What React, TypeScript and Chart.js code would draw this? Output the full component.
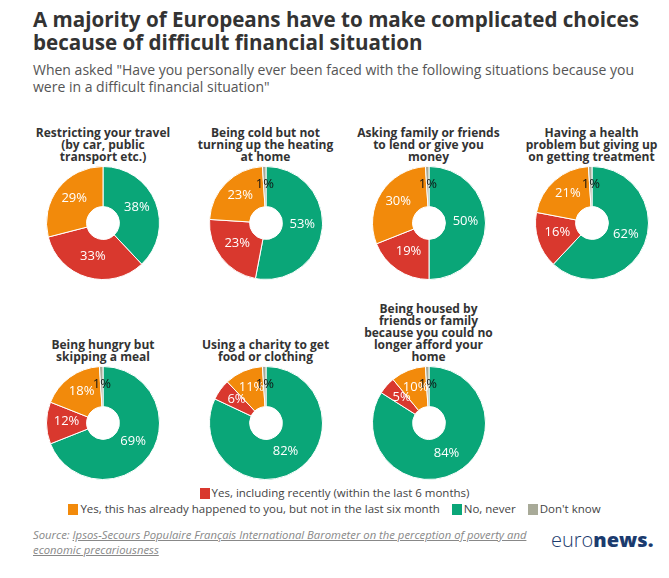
import React, { useEffect, useRef } from "react";
import { Chart, registerables } from "chart.js";

Chart.register(...registerables);

// ---------- DATA ----------
const categoryTitles: string[][] = [
  ["Restricting your travel", "(by car, public", "transport etc.)"],
  ["Being cold but not", "turning up the heating", "at home"],
  ["Asking family or friends", "to lend or give you", "money"],
  ["Having a health", "problem but giving up", "on getting treatment"],
  ["Being hungry but", "skipping a meal"],
  ["Using a charity to get", "food or clothing"],
  ["Being housed by", "friends or family", "because you could no", "longer afford your", "home"],
];

const seriesNames = [
  "No, never",
  "Yes, including recently (within the last 6 months)",
  "Yes, this has already happened to you, but not in the last six month",
  "Don't know",
];

const noNever = [38, 53, 50, 62, 69, 82, 84];
const yesRecently = [33, 23, 19, 16, 12, 6, 5];
const yesEarlier = [29, 23, 30, 21, 18, 11, 10];
const dontKnow = [0, 1, 1, 1, 1, 1, 1];

const seriesColors = ["#0aa678", "#d9382e", "#f28a0b", "#a8aa98"];
const labelColors = ["#ffffff", "#ffffff", "#ffffff", "#111111"];

// legend order as in the reference: row 1 / row 2
const legendRows: number[][] = [[1], [2, 0, 3]];

// ---------- LAYOUT ----------
const colX = [103, 265.5, 428.5, 591.5];
const rowY = [223, 422.5];
const titleBottom = [163, 363];
const SIZE = 114;

const FONT = '"Open Sans", "DejaVu Sans", sans-serif';

const pctLabels = {
  id: "pctLabels",
  afterDatasetsDraw(chart: any) {
    const ctx = chart.ctx;
    const meta = chart.getDatasetMeta(0);
    const data = chart.data.datasets[0].data as number[];
    ctx.save();
    ctx.font = '400 13px "Open Sans"';
    ctx.textAlign = "center";
    ctx.textBaseline = "middle";
    meta.data.forEach((arc: any, i: number) => {
      const v = data[i];
      if (!v) return;
      const p = arc.tooltipPosition();
      ctx.fillStyle = labelColors[i];
      ctx.fillText(v + "%", p.x, p.y - 2);
    });
    ctx.restore();
  },
};

function Donut({ idx }: { idx: number }) {
  const ref = useRef<HTMLCanvasElement>(null);
  useEffect(() => {
    if (!ref.current) return;
    const chart = new Chart(ref.current, {
      type: "doughnut",
      data: {
        labels: seriesNames,
        datasets: [
          {
            data: [noNever[idx], yesRecently[idx], yesEarlier[idx], dontKnow[idx]],
            backgroundColor: seriesColors,
            borderColor: "#ffffff",
            borderWidth: 1,
          },
        ],
      },
      options: {
        responsive: false,
        animation: false,
        events: [],
        cutout: "29%",
        layout: { padding: 0 },
        plugins: {
          legend: { display: false },
          tooltip: { enabled: false },
        },
      },
      plugins: [pctLabels],
    });
    return () => chart.destroy();
  }, [idx]);
  const row = idx < 4 ? 0 : 1;
  const col = idx < 4 ? idx : idx - 4;
  const cx = colX[col];
  const cy = rowY[row];
  return (
    <>
      <div
        style={{
          position: "absolute",
          left: cx - 90,
          width: 180,
          bottom: 578 - titleBottom[row],
          textAlign: "center",
          font: `700 12px/12px ${FONT}`,
          color: "#333",
        }}
      >
        {categoryTitles[idx].map((l, i) => (
          <div key={i}>{l}</div>
        ))}
      </div>
      <canvas
        ref={ref}
        width={SIZE}
        height={SIZE}
        style={{ position: "absolute", left: cx - SIZE / 2, top: cy - SIZE / 2, width: SIZE, height: SIZE }}
      />
    </>
  );
}

export default function App() {
  return (
    <div
      style={{
        position: "absolute",
        left: 0,
        top: 0,
        width: 669,
        height: 578,
        background: "#fff",
        overflow: "hidden",
        fontFamily: FONT,
      }}
    >
      <div
        style={{
          position: "absolute",
          left: 33,
          top: 8,
          font: `700 20.6px/23px ${FONT}`,
          color: "#333",
          whiteSpace: "nowrap",
        }}
      >
        A majority of Europeans have to make complicated choices
        <br />
        because of difficult financial situation
      </div>
      <div
        style={{
          position: "absolute",
          left: 33,
          top: 61,
          font: `400 14px/17px ${FONT}`,
          color: "#555",
          whiteSpace: "nowrap",
        }}
      >
        When asked "Have you personally ever been faced with the following situations because you
        <br />
        were in a difficult financial situation"
      </div>

      {categoryTitles.map((_, i) => (
        <Donut key={i} idx={i} />
      ))}

      {legendRows.map((row, r) => (
        <div
          key={r}
          style={{
            position: "absolute",
            left: 0,
            width: 669,
            top: 485 + r * 16,
            height: 16,
            display: "flex",
            justifyContent: "center",
            alignItems: "center",
            font: `400 11.5px/16px ${FONT}`,
            color: "#444",
            whiteSpace: "nowrap",
          }}
        >
          {row.map((s, k) => (
            <div key={k} style={{ display: "flex", alignItems: "center", marginLeft: k ? 12 : 0 }}>
              <span
                style={{ display: "inline-block", width: 10, height: 11, background: seriesColors[s], marginRight: 2 }}
              />
              <span>{seriesNames[s]}</span>
            </div>
          ))}
        </div>
      ))}

      <div
        style={{
          position: "absolute",
          left: 33,
          top: 527,
          font: `italic 400 11.3px/15px ${FONT}`,
          color: "#888",
          whiteSpace: "nowrap",
        }}
      >
        Source:{" "}
        <span style={{ textDecoration: "underline" }}>
          Ipsos-Secours Populaire Français International Barometer on the perception of poverty and
        </span>
        <br />
        <span style={{ textDecoration: "underline" }}>economic precariousness</span>
      </div>

      <div
        style={{
          position: "absolute",
          left: 551,
          top: 527,
          font: `20px/26px ${FONT}`,
          color: "#1b3b6e",
          whiteSpace: "nowrap",
        }}
      >
        <span style={{ fontWeight: 300 }}>euro</span>
        <span style={{ fontWeight: 800 }}>news</span>
        <span style={{ fontWeight: 800 }}>.</span>
      </div>
    </div>
  );
}
